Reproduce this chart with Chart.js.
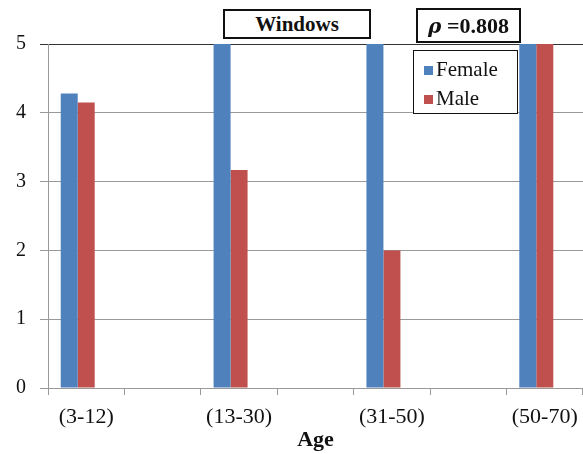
<!DOCTYPE html>
<html><head><meta charset="utf-8">
<script src="https://cdn.jsdelivr.net/npm/chart.js@4.4.0/dist/chart.umd.min.js"></script>
</head>
<body style="margin:0;background:#fff">
<div style="position:absolute;left:223px;top:9px;width:148px;height:30px;box-sizing:border-box;border:2px solid #111;background:#fff;color:#111;text-align:center;font-family:'Liberation Serif';font-size:21px;font-weight:bold;line-height:26px">Windows</div>
<div style="position:absolute;left:413px;top:50px;width:105px;height:64px;box-sizing:border-box;border:1.5px solid #111;background:#fff;color:#111;font-family:'Liberation Serif';font-size:21px">
  <div style="position:absolute;left:10px;top:5px;height:26px;line-height:26px;white-space:nowrap"><span style="display:inline-block;width:9px;height:9px;margin-right:3px;vertical-align:1px;background:#4F81BD"></span>Female</div>
  <div style="position:absolute;left:10px;top:34px;height:26px;line-height:26px;white-space:nowrap"><span style="display:inline-block;width:9px;height:9px;margin-right:3px;vertical-align:1px;background:#C0504D"></span>Male</div>
</div>
<div style="position:absolute;left:416px;top:8px;width:105px;height:35px;box-sizing:border-box;border:2px solid #111;background:#fff;color:#111;text-align:center;line-height:31px;white-space:nowrap"><span style="font-family:'DejaVu Serif';font-style:italic;font-weight:bold;font-size:20px">ρ</span><span style="font-family:'Liberation Serif';font-weight:bold;font-size:22px"> =0.808</span></div>
<div style="width:583px;height:454px"><canvas id="chart" width="583" height="454"></canvas></div>
<script>
// every other slot is an empty spacer category, as in the original
const ageLabels = ['(3-12)', '', '(13-30)', '', '(31-50)', '', '(50-70)'];
const femaleVals = [4.28, null, 5, null, 5, null, 5];
const maleVals = [4.15, null, 3.17, null, 2.0, null, 5];
const emptyVals = [null, null, null, null, null, null, null];
const yTicks = [0, 1, 2, 3, 4, 5];

const fam = "'Liberation Serif'";

new Chart(document.getElementById('chart'), {
  type: 'bar',
  data: {
    labels: ageLabels,
    datasets: [
      { label: 'Female', data: femaleVals, backgroundColor: '#4F81BD' },
      { label: 'Male', data: maleVals, backgroundColor: '#C0504D' },
      { label: '', data: emptyVals, backgroundColor: 'transparent' }
    ]
  },
  options: {
    responsive: false,
    animation: false,
    layout: { padding: { top: 44, right: 0, bottom: 0, left: 0 } },
    datasets: { bar: { barPercentage: 1, categoryPercentage: 0.667, borderWidth: 0 } },
    plugins: { legend: { display: false }, tooltip: { enabled: false } },
    scales: {
      x: {
        grid: { drawOnChartArea: false, drawTicks: true, tickLength: 7, color: '#999' },
        border: { display: true, color: '#999' },
        ticks: { color: '#111', font: { family: fam, size: 22 }, padding: 9, maxRotation: 0, autoSkip: false },
        title: { display: true, text: 'Age', color: '#111', font: { family: fam, size: 22, weight: 'bold' }, padding: { top: 0, bottom: 0 } },
        afterFit: s => { s.height = 66; s.paddingLeft = 0; s.paddingRight = 0; }
      },
      y: {
        min: 0,
        max: 5,
        afterBuildTicks: s => { s.ticks = yTicks.map(v => ({ value: v })); },
        grid: {
          color: c => c.tick && c.tick.value === 5 ? '#333' : '#999',
          tickLength: 8
        },
        border: { display: true, color: '#999' },
        ticks: { color: '#111', font: { family: fam, size: 20 }, padding: 14 },
        afterFit: s => { s.width = 48; s.paddingTop = 0; s.paddingBottom = 0; }
      }
    }
  }
});
</script>
</body>
</html>
